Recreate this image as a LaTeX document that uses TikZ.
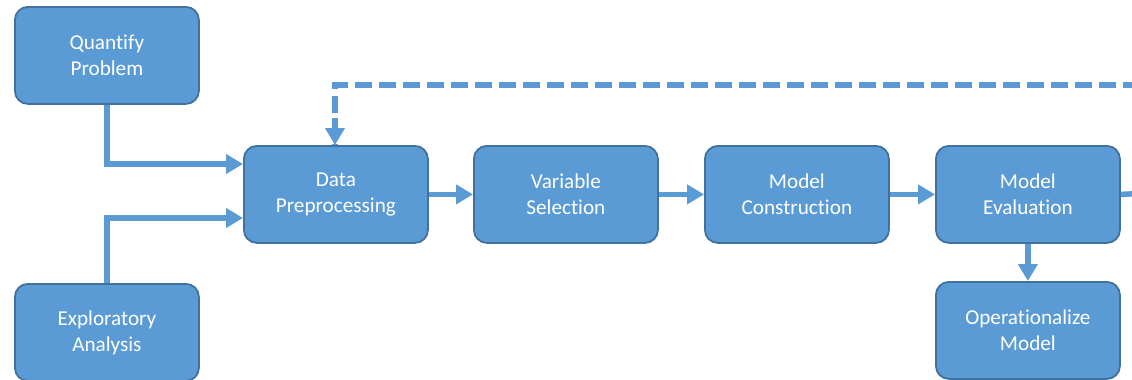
\documentclass[tikz,border=0pt]{standalone}
\usepackage{fontspec}
\setmainfont[Ligatures=NoCommon]{Carlito}
\usetikzlibrary{arrows.meta}
\definecolor{boxfill}{HTML}{5B9BD5}
\definecolor{boxedge}{HTML}{41719C}
\definecolor{linec}{HTML}{5B9BD5}
\begin{document}
\begin{tikzpicture}[x=1pt,y=-1pt,
  procbox/.style={draw=boxedge, line width=1.8pt, fill=boxfill, rounded corners=13pt,
    minimum width=184pt, minimum height=97pt, inner sep=0pt, text=white,
    font=\fontsize{21.2}{26}\selectfont, align=center, anchor=north west},
  flow/.style={draw=linec, line width=5.5pt, -{Triangle[length=17pt,width=19pt]}},
  plainflow/.style={draw=linec, line width=5.5pt},
  dashflow/.style={draw=linec, line width=5.5pt, dash pattern=on 17pt off 7pt}]
\useasboundingbox (0,0) rectangle (1132,380);
\clip (0,0) rectangle (1132,380);
\node[procbox] (qp) at (14,6) {Quantify\\Problem};
\node[procbox] (ea) at (14,283) {Exploratory\\Analysis};
\node[procbox] (dp) at (243,145) {Data\\Preprocessing};
\node[procbox] (vs) at (473,145) {Variable\\Selection};
\node[procbox] (mc) at (704,145) {Model\\Construction};
\node[procbox] (me) at (935,145) {Model\\Evaluation};
\node[procbox] (om) at (935,281) {Operationalize\\Model};
\coordinate (qpturn) at (107,164);
\coordinate (eaturn) at (107,218);
\coordinate (dashstart) at (1140,85);
\coordinate (dashturn) at (335,85);
\coordinate (meout) at (1140,193.5);
\draw[flow] (qp.south -| qpturn) -- (qpturn) -- (qpturn -| dp.west);
\draw[flow] (ea.north -| eaturn) -- (eaturn) -- (eaturn -| dp.west);
\draw[flow] (dp.east) -- (vs.west);
\draw[flow] (vs.east) -- (mc.west);
\draw[flow] (mc.east) -- (me.west);
\draw[flow] (me.south) -- (om.north);
\draw[plainflow] (me.east) -- (meout);
\draw[dashflow] (dashstart) -- (dashturn) -- (dashturn |- dp.north);
\draw[flow] (335,118) -- (dashturn |- dp.north);
\end{tikzpicture}
\end{document}
